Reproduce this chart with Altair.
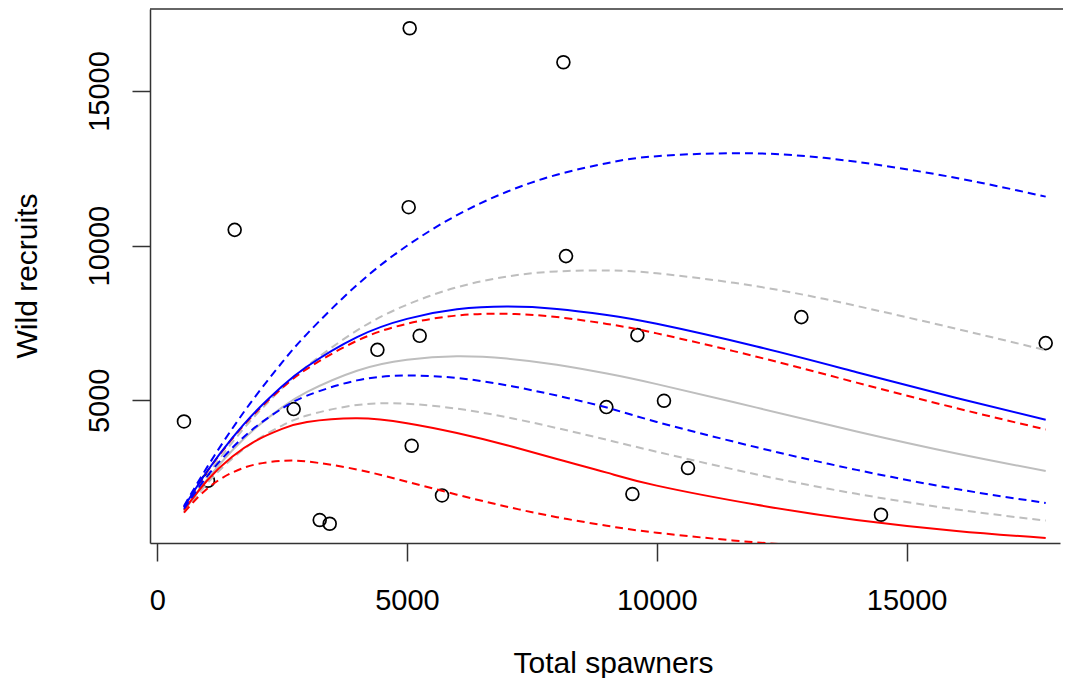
import altair as alt
import pandas as pd

# observed stock-recruit pairs
spawners = [536, 1017, 1551, 2732, 3253, 3453, 4408, 5034, 5054, 5094, 5254, 5701,
            8131, 8183, 8991, 9512, 9612, 10144, 10625, 12894, 14488, 17785]
recruits = [4315, 2398, 10511, 4716, 1128, 1008, 6632, 11244, 17030, 3529, 7085, 1923,
            15931, 9661, 4780, 1968, 7107, 4984, 2809, 7689, 1299, 6849]

# fitted curves
curve_s = [536, 1000, 1500, 2000, 2500, 3000, 4000, 5000, 6000, 7000, 8000, 9000, 10000,
           12000, 14000, 16000, 17785]
blue_mid = [1549, 2704, 3776, 4687, 5454, 6094, 7044, 7633, 7940, 8030, 7955, 7759, 7473, 6739, 5908, 5075, 4371]
blue_hi = [1585, 2839, 4077, 5201, 6223, 7149, 8730, 9996, 10987, 11743, 12293, 12668, 12894, 12983, 12710, 12188, 11585]
blue_lo = [1492, 2541, 3455, 4177, 4734, 5150, 5644, 5799, 5720, 5485, 5152, 4765, 4300, 3480, 2750, 2130, 1681]
grey_mid = [1415, 2445, 3376, 4145, 4771, 5271, 5957, 6311, 6420, 6349, 6150, 5865, 5523, 4762, 3992, 3279, 2712]
grey_hi = [1448, 2562, 3629, 4569, 5392, 6108, 7260, 8090, 8654, 9000, 9168, 9195, 9107, 8685, 8051, 7311, 6620]
grey_lo = [1368, 2311, 3112, 3726, 4183, 4508, 4847, 4887, 4729, 4450, 4102, 3722, 3335, 2602, 1975, 1469, 1111]
red_mid = [1455, 2407, 3171, 3713, 4074, 4295, 4417, 4258, 3941, 3546, 3100, 2660, 2240, 1620, 1130, 775, 547]
red_hi = [1544, 2692, 3752, 4647, 5396, 6018, 6926, 7474, 7742, 7797, 7692, 7470, 7164, 6408, 5571, 4744, 4055]
red_lo = [1368, 2142, 2660, 2937, 3040, 3021, 2762, 2367, 1948, 1558, 1221, 942, 717, 404, 222, 119, 68]

curves = [
    ("grey_hi", grey_hi, "#BEBEBE", [8, 5]),
    ("grey_lo", grey_lo, "#BEBEBE", [8, 5]),
    ("grey_mid", grey_mid, "#BEBEBE", None),
    ("red_hi", red_hi, "#FF0000", [8, 5]),
    ("red_lo", red_lo, "#FF0000", [8, 5]),
    ("red_mid", red_mid, "#FF0000", None),
    ("blue_hi", blue_hi, "#0000FF", [8, 5]),
    ("blue_lo", blue_lo, "#0000FF", [8, 5]),
    ("blue_mid", blue_mid, "#0000FF", None),
]

W, H = 910, 534
FONT = "Liberation Sans"

xs = alt.Scale(domain=[-144, 18071], nice=False, zero=False)
ys = alt.Scale(domain=[385, 17653], nice=False, zero=False)

x_axis = alt.Axis(values=[0, 5000, 10000, 15000], format="d", title="Total spawners",
                  grid=False, tickSize=18, tickWidth=1.5, tickColor="#333333",
                  domainColor="#333333", domainWidth=1.5,
                  labelFont=FONT, labelFontSize=29, labelColor="black", labelPadding=25,
                  labelFlush=False, labelOverlap=False,
                  titleFont=FONT, titleFontSize=30, titleFontWeight="normal", titleColor="black",
                  titleX=463, titleY=129, titleAlign="center", titleBaseline="alphabetic")
y_axis = alt.Axis(values=[5000, 10000, 15000], format="d", title="Wild recruits",
                  grid=False, tickSize=18, tickWidth=1.5, tickColor="#333333",
                  domainColor="#333333", domainWidth=1.5,
                  labelFont=FONT, labelFontSize=29, labelColor="black", labelPadding=24,
                  labelAngle=270, labelAlign="center", labelBaseline="alphabetic",
                  labelFlush=False, labelOverlap=False,
                  titleFont=FONT, titleFontSize=30, titleFontWeight="normal", titleColor="black",
                  titleAngle=270, titleX=-114, titleY=266.5, titleAlign="center",
                  titleBaseline="alphabetic")

pts = pd.DataFrame({"S": spawners, "R": recruits})
points = alt.Chart(pts).mark_point(shape="circle", filled=False, size=165,
                                   strokeWidth=1.7, color="black", opacity=1).encode(
    x=alt.X("S:Q", scale=xs, axis=x_axis),
    y=alt.Y("R:Q", scale=ys, axis=y_axis),
)

layers = [points]
for name, vals, col, dash in curves:
    df = pd.DataFrame({"S": curve_s, "R": vals})
    kw = dict(color=col, strokeWidth=2, clip=True, interpolate="natural")
    if dash:
        kw["strokeDash"] = dash
    layers.append(alt.Chart(df).mark_line(**kw).encode(
        x=alt.X("S:Q", scale=xs), y=alt.Y("R:Q", scale=ys)))

top = alt.Chart(pd.DataFrame({"a": [0]})).mark_rule(color="#333333", strokeWidth=1.5).encode(
    y=alt.value(0), x=alt.value(0), x2=alt.value(W + 3))
layers.append(top)

chart = alt.layer(*layers).properties(
    width=W, height=H,
    padding={"left": 142, "top": 1, "right": 3, "bottom": 135},
    autosize=alt.AutoSizeParams(type="none"),
).configure_view(stroke=None)

chart.save("out.html", embed_options={"renderer": "svg", "actions": False})
